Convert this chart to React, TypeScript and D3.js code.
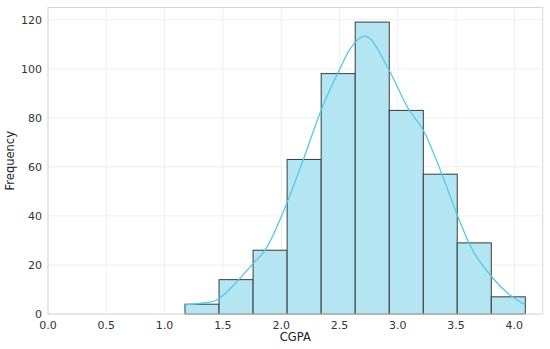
import React, { useEffect, useRef } from 'react';
import * as d3 from 'd3';

// Histogram bins (CGPA) and counts
const binEdges = [1.175, 1.467, 1.759, 2.051, 2.343, 2.635, 2.927, 3.219, 3.51, 3.802, 4.094];
const counts = [4, 14, 26, 63, 98, 119, 83, 57, 29, 7];

// KDE curve points (in count units)
const kdeX = [1.175, 1.3, 1.43, 1.5, 1.632, 1.76, 1.861, 2.047, 2.19, 2.347, 2.49, 2.59, 2.719, 2.919, 3.09, 3.219, 3.376, 3.505, 3.62, 3.805, 3.962, 4.094];
const kdeY = [3.7, 4.3, 5.3, 7.5, 13.8, 20.6, 26, 45, 63, 83.7, 98.6, 108, 113.3, 100, 83.7, 74.9, 57.3, 41, 28, 15.2, 7.7, 3.7];

const xTicks = [0, 0.5, 1, 1.5, 2, 2.5, 3, 3.5, 4];
const yTicks = [0, 20, 40, 60, 80, 100, 120];

const App = () => {
  const ref = useRef<SVGSVGElement>(null);

  useEffect(() => {
    const width = 550;
    const height = 349;
    const margin = { left: 48, right: 7.3, top: 7.5, bottom: 35 };

    const svg = d3.select(ref.current);
    svg.selectAll('*').remove();

    const x = d3.scaleLinear().domain([0, 4.243]).range([margin.left, width - margin.right]);
    const y = d3.scaleLinear().domain([0, 124.95]).range([height - margin.bottom, margin.top]);

    const font = 'DejaVu Sans, sans-serif';

    // grid
    svg.append('g')
      .selectAll('line')
      .data(xTicks)
      .join('line')
      .attr('x1', d => x(d)).attr('x2', d => x(d))
      .attr('y1', y.range()[0]).attr('y2', y.range()[1])
      .attr('stroke', '#ebebeb').attr('stroke-width', 0.8);
    svg.append('g')
      .selectAll('line')
      .data(yTicks)
      .join('line')
      .attr('x1', x.range()[0]).attr('x2', x.range()[1])
      .attr('y1', d => y(d)).attr('y2', d => y(d))
      .attr('stroke', '#ebebeb').attr('stroke-width', 0.8);

    // bars
    const bins = counts.map((c, i) => ({ x0: binEdges[i], x1: binEdges[i + 1], c }));
    svg.append('g')
      .selectAll('rect')
      .data(bins)
      .join('rect')
      .attr('x', d => x(d.x0))
      .attr('y', d => y(d.c))
      .attr('width', d => x(d.x1) - x(d.x0))
      .attr('height', d => y(0) - y(d.c))
      .attr('fill', '#b4e5f3')
      .attr('stroke', '#3a3a3a')
      .attr('stroke-width', 1);

    // kde line
    const pts = kdeX.map((v, i) => [v, kdeY[i]] as [number, number]);
    const line = d3.line<[number, number]>()
      .x(d => x(d[0]))
      .y(d => y(d[1]))
      .curve(d3.curveMonotoneX);
    svg.append('path')
      .attr('d', line(pts))
      .attr('fill', 'none')
      .attr('stroke', '#57c7ea')
      .attr('stroke-width', 1.3);

    // spines
    svg.append('rect')
      .attr('x', x.range()[0]).attr('y', y.range()[1])
      .attr('width', x.range()[1] - x.range()[0])
      .attr('height', y.range()[0] - y.range()[1])
      .attr('fill', 'none')
      .attr('stroke', '#d6d6d6')
      .attr('stroke-width', 1);

    // tick labels
    svg.append('g')
      .selectAll('text')
      .data(xTicks)
      .join('text')
      .attr('x', d => x(d))
      .attr('y', y(0) + 15)
      .attr('text-anchor', 'middle')
      .attr('font-family', font)
      .attr('font-size', 11)
      .attr('fill', '#333')
      .text(d => d.toFixed(1));
    svg.append('g')
      .selectAll('text')
      .data(yTicks)
      .join('text')
      .attr('x', x(0) - 6)
      .attr('y', d => y(d) + 4)
      .attr('text-anchor', 'end')
      .attr('font-family', font)
      .attr('font-size', 11)
      .attr('fill', '#333')
      .text(d => d);

    // axis labels
    svg.append('text')
      .attr('x', (x.range()[0] + x.range()[1]) / 2)
      .attr('y', 341)
      .attr('text-anchor', 'middle')
      .attr('font-family', font)
      .attr('font-size', 11.5)
      .attr('fill', '#222')
      .text('CGPA');
    svg.append('text')
      .attr('transform', `translate(14,${(y.range()[0] + y.range()[1]) / 2}) rotate(-90)`)
      .attr('text-anchor', 'middle')
      .attr('font-family', font)
      .attr('font-size', 11.5)
      .attr('fill', '#222')
      .text('Frequency');
  }, []);

  return (
    <svg
      ref={ref}
      width={550}
      height={349}
      style={{ position: 'absolute', left: 0, top: 0, background: '#fff' }}
    />
  );
};

export default App;
